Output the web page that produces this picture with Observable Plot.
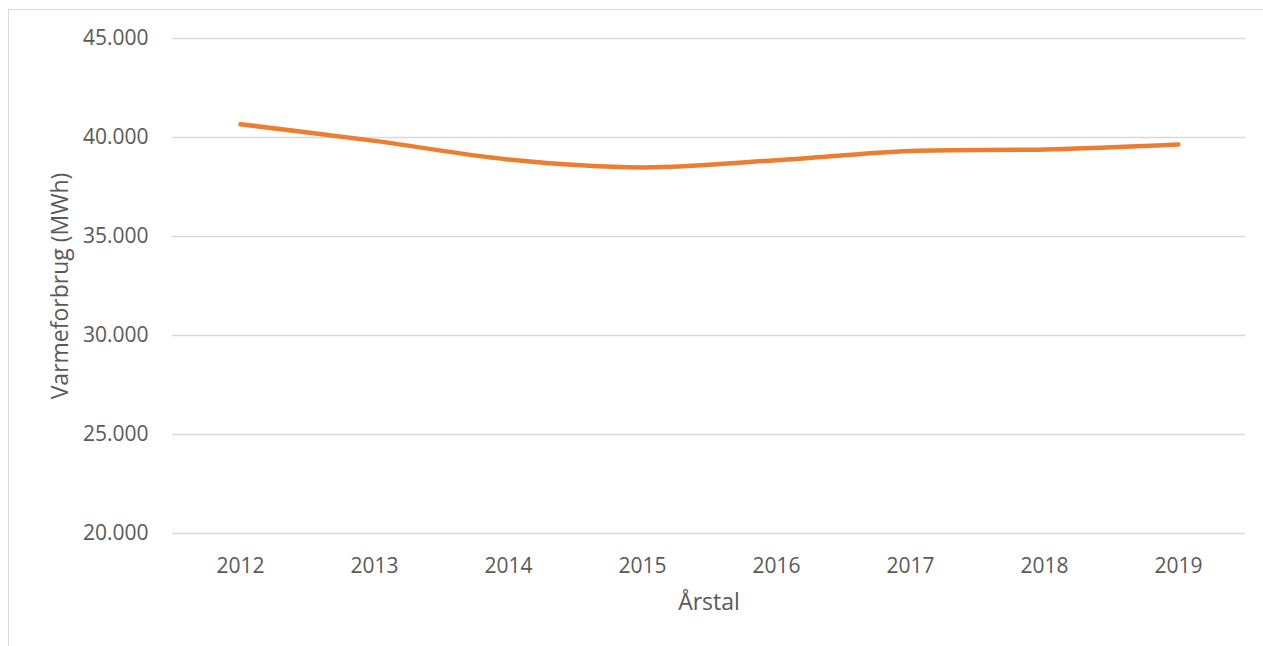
<!DOCTYPE html>
<html>
<head>
<meta charset="utf-8">
<script src="https://cdn.jsdelivr.net/npm/d3@7"></script>
<script src="https://cdn.jsdelivr.net/npm/@observablehq/plot@0.6"></script>
<style>
  html, body { margin: 0; padding: 0; background: #fff; }
  #wrap { position: relative; width: 1263px; height: 646px; overflow: hidden; }
  #border { position: absolute; left: 8px; top: 9px; width: 1400px; height: 800px;
            border-left: 1.5px solid #d9d9d9; border-top: 1.5px solid #d9d9d9; }
  #chart { position: absolute; left: 0; top: 0; }
</style>
</head>
<body>
<div id="wrap"><div id="border"></div><div id="chart"></div></div>
<script>
const years = ["2012", "2013", "2014", "2015", "2016", "2017", "2018", "2019"];
const heat = [40670, 39830, 38890, 38490, 38850, 39320, 39400, 39650];
const yTicks = [20000, 25000, 30000, 35000, 40000, 45000];
const xTitle = "Årstal";
const yTitle = "Varmeforbrug (MWh)";

const data = years.map((y, i) => ({year: y, value: heat[i]}));
const fmt = d => String(d).replace(/\B(?=(\d{3})+(?!\d))/g, ".");
const textColor = "#595959";
const font = "Open Sans, sans-serif";

const chart = Plot.plot({
  width: 1263,
  height: 646,
  marginLeft: 172,
  marginRight: 18,
  marginTop: 38,
  marginBottom: 113,
  style: {fontFamily: font, fontSize: "21px", color: textColor, background: "transparent"},
  x: {type: "point", domain: years, padding: 0.5, label: null},
  y: {domain: [20000, 45000], label: null},
  marks: [
    Plot.ruleY(yTicks, {stroke: "#d9d9d9", strokeWidth: 1.5}),
    Plot.axisY({ticks: yTicks, tickFormat: fmt, tickSize: 0, tickPadding: 24, fill: textColor, fontSize: 21, label: null}),
    Plot.axisX({tickSize: 0, tickPadding: 25, fill: textColor, fontSize: 21, label: null}),
    Plot.line(data, {x: "year", y: "value", stroke: "#ED7D31", strokeWidth: 4.5, curve: "catmull-rom", strokeLinecap: "round"}),
    Plot.text([xTitle], {frameAnchor: "bottom", dy: 76, fill: textColor, fontSize: 23}),
    Plot.text([yTitle], {frameAnchor: "left", dx: -112, rotate: -90, textAnchor: "middle", fill: textColor, fontSize: 23})
  ]
});
document.getElementById("chart").appendChild(chart);
</script>
</body>
</html>
